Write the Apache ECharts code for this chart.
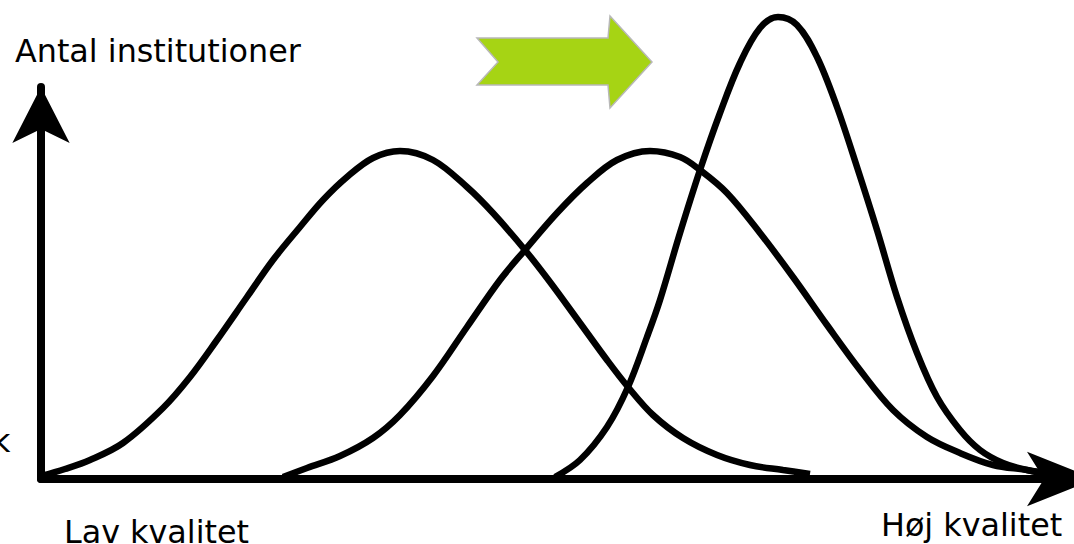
<!DOCTYPE html>
<html>
<head>
<meta charset="utf-8">
<title>Antal institutioner</title>
<script src="https://cdn.jsdelivr.net/npm/echarts/dist/echarts.min.js"></script>
<style>
    html, body { margin: 0; padding: 0; background: #fff; }
    #quality-chart { width: 1074px; height: 544px; }
</style>
</head>
<body>
<div id="quality-chart"></div>
<script>
// kvalitet (x) mod antal institutioner (y)
var lowCurve = [
    [0, 3], [24, 10], [49, 19], [82, 36], [122, 71], [149, 102], [176, 139],
    [206, 182], [232, 219], [259, 252], [282, 279], [306, 302], [332, 321],
    [359, 328], [392, 319], [426, 292], [452, 266], [484, 229], [509, 197],
    [539, 156], [566, 119], [587, 92], [612, 64], [642, 41], [676, 24],
    [709, 14], [742, 9], [769, 5]
];
var midCurve = [
    [242, 2], [266, 11], [299, 23], [332, 41], [359, 64], [392, 103],
    [426, 152], [459, 199], [484, 229], [516, 266], [546, 296], [576, 319],
    [609, 328], [639, 322], [659, 309], [686, 286], [719, 246], [752, 202],
    [786, 154], [819, 109], [852, 69], [886, 42], [919, 26], [952, 14],
    [986, 9], [1014, 4]
];
var highCurve = [
    [514, 2], [539, 19], [566, 52], [587, 92], [606, 142], [619, 179],
    [639, 246], [659, 309], [679, 366], [699, 416], [719, 451], [737, 462],
    [756, 454], [776, 422], [796, 372], [816, 312], [836, 249], [856, 182],
    [876, 126], [896, 82], [919, 49], [939, 29], [962, 16], [986, 9],
    [1014, 4]
];
var xRange = [0, 1033];
var yRange = [0, 392];
var yTitle = 'Antal institutioner';
var lowLabel = 'Lav kvalitet';
var highLabel = 'Høj kvalitet';
var cutLabel = 'k';

var chartObj = {
    init: function(){
        var wrap = document.getElementById('quality-chart');
        // svg: glatte kurver
        this.chart = echarts.init(wrap, null, { renderer: 'svg' });
        this.chart.setOption(this.option());
    },
    axisLine: function(size, offset){
        return {
            show: true,
            symbol: ['none', 'arrow'],
            symbolSize: size,
            symbolOffset: [0, offset],
            lineStyle: { color: '#000', width: 8 }
        };
    },
    curve: function(data){
        return {
            type: 'line',
            data: data,
            smooth: 0.35,
            showSymbol: false,
            clip: false,
            silent: true,
            lineStyle: { color: '#000', width: 6.5 }
        };
    },
    label: function(text, x, y){
        return {
            type: 'text',
            left: x,
            top: y,
            style: {
                text: text,
                font: '31.8px "DejaVu Sans"',
                fill: '#000'
            }
        };
    },
    option: function(){
        return {
            animation: false,
            grid: { left: 41, right: 0, top: 87, bottom: 65 },
            xAxis: {
                type: 'value',
                min: xRange[0],
                max: xRange[1],
                // pilespidsen går ud over billedkanten
                axisLine: this.axisLine([41, 68], 21),
                axisTick: { show: false },
                axisLabel: { show: false },
                splitLine: { show: false }
            },
            yAxis: {
                type: 'value',
                min: yRange[0],
                max: yRange[1],
                axisLine: this.axisLine([43, 56], 0),
                axisTick: { show: false },
                axisLabel: { show: false },
                splitLine: { show: false }
            },
            series: [
                this.curve(lowCurve),
                this.curve(midCurve),
                this.curve(highCurve)
            ],
            graphic: [
                this.label(yTitle, 15, 34),
                this.label(lowLabel, 64, 515),
                this.label(highLabel, 881, 508),
                this.label(cutLabel, -8, 424),
                {
                    type: 'polygon',
                    shape: {
                        points: [[477, 38], [608, 38], [610, 16], [652, 62],
                            [610, 108], [608, 85], [477, 85], [498, 62]]
                    },
                    style: { fill: '#a6d414', stroke: '#b8b8b8', lineWidth: 1.5 }
                }
            ]
        };
    }
};

chartObj.init();
</script>
</body>
</html>
